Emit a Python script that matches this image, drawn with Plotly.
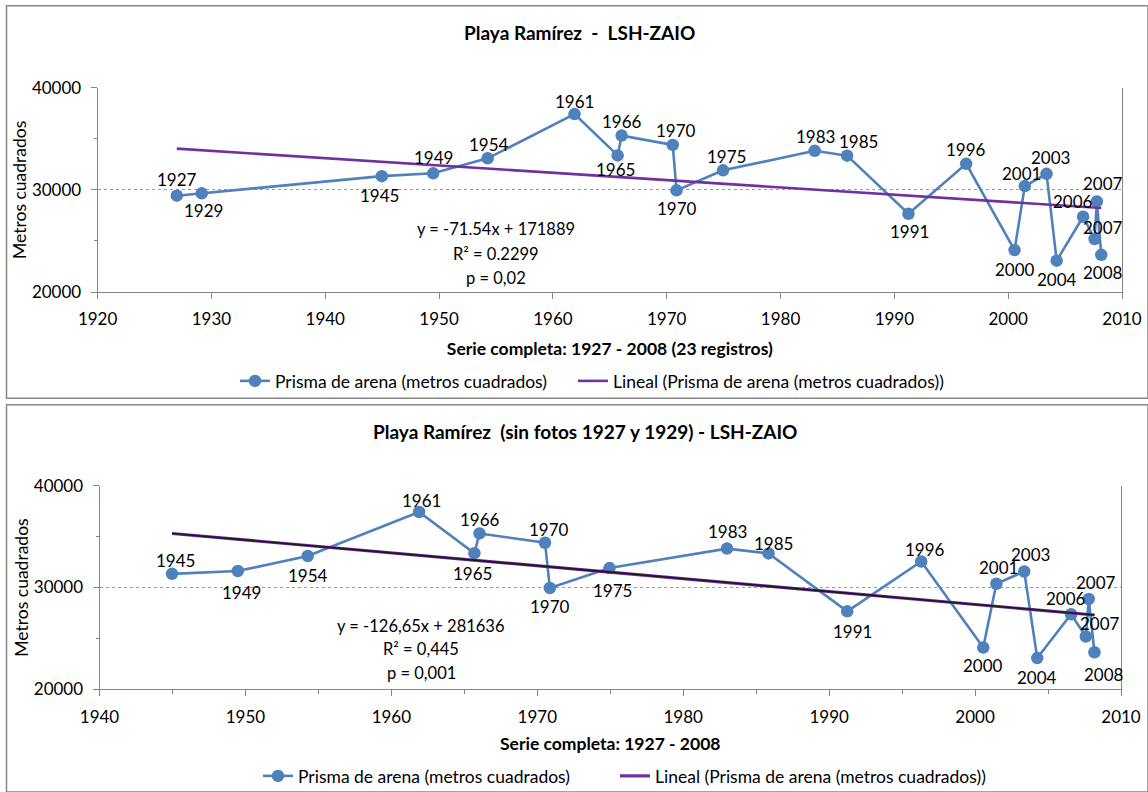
import plotly.graph_objects as go

# Survey dates (decimal years), their labels and sand prism area (m²)
fechas = [1926.96, 1929.15, 1944.97, 1949.48, 1954.27, 1961.90, 1965.69, 1966.04,
          1970.53, 1970.86, 1974.95, 1983.00, 1985.85, 1991.24, 1996.31, 2000.56,
          2001.46, 2003.37, 2004.26, 2006.58, 2007.59, 2007.79, 2008.18]
etiquetas = ["1927", "1929", "1945", "1949", "1954", "1961", "1965", "1966",
             "1970", "1970", "1975", "1983", "1985", "1991", "1996", "2000",
             "2001", "2003", "2004", "2006", "2007", "2007", "2008"]
prisma = [29430, 29660, 31340, 31620, 33090, 37420, 33370, 35310,
          34400, 29950, 31910, 33820, 33350, 27660, 32550, 24100,
          30370, 31570, 23070, 27370, 25190, 28870, 23640]

# Linear fits reported on each panel
pendiente_completa, ordenada_completa = -71.54, 171889
pendiente_sin, ordenada_sin = -126.65, 281636

# Label offsets (pixels) around each marker
desp_sup = [(0, 16), (2, -17), (-2, -19), (0, 16), (1, 14), (0, 13), (-2, -14), (0, 14),
            (3, 14), (0, -18), (3, 14), (1, 14), (11, 14), (1, -18), (0, 14), (0, -19),
            (-3, 13), (4, 16), (0, -19), (-10, 15), (8, 11), (6, 18), (2, -18)]
desp_inf = [(3, 13), (4, -21), (0, -19), (2, 11), (-2, -20), (0, 14),
            (4, 13), (0, -18), (3, -22), (1, 17), (5, 10), (5, -20), (4, 12), (0, -18),
            (2, 16), (6, 17), (0, -19), (-5, 16), (14, 13), (7, 17), (10, -22)]

SERIE = "Prisma de arena (metros cuadrados)"
AJUSTE = "Lineal (Prisma de arena (metros cuadrados))"

AZUL = "#4F81BD"
MORADO = "#7030A0"
GRIS = "#868686"
FUENTE = "Lato, 'Liberation Sans', sans-serif"
W, H = 1148, 792
T_TICK = 17
T_TXT = 17.5


def px_x(v):
    return v / W


def px_y(v):
    return 1 - v / H


def rotulo(texto, x, y, size, bold=False):
    if bold:
        texto = "<b>" + texto + "</b>"
    return dict(x=px_x(x), y=px_y(y), xref="paper", yref="paper", showarrow=False,
                xanchor="center", yanchor="middle", text=texto,
                font=dict(size=size, color="#000"))


def leyenda(x, y):
    return dict(orientation="h", x=px_x(x), xanchor="left", y=px_y(y), yanchor="middle",
                font=dict(size=T_TXT), bgcolor="rgba(0,0,0,0)")


fig = go.Figure()

# ---- Upper panel: full series ----
fig.add_trace(go.Scatter(
    x=fechas, y=prisma, mode="lines+markers", name=SERIE,
    line=dict(color=AZUL, width=2.6), marker=dict(color=AZUL, size=12.5),
    xaxis="x", yaxis="y", legend="legend", cliponaxis=False))
x_fit = [min(fechas), max(fechas)]
fig.add_trace(go.Scatter(
    x=x_fit, y=[pendiente_completa * v + ordenada_completa for v in x_fit], mode="lines",
    name=AJUSTE, line=dict(color=MORADO, width=2.6), xaxis="x", yaxis="y", legend="legend2"))

# ---- Lower panel: without 1927 and 1929 ----
fechas_sin = fechas[2:]
prisma_sin = prisma[2:]
etiquetas_sin = etiquetas[2:]
fig.add_trace(go.Scatter(
    x=fechas_sin, y=prisma_sin, mode="lines+markers", name=SERIE,
    line=dict(color=AZUL, width=2.6), marker=dict(color=AZUL, size=12.5),
    xaxis="x2", yaxis="y2", legend="legend3", cliponaxis=False))
x_fit2 = [min(fechas_sin), max(fechas_sin)]
y_fit2 = [pendiente_sin * v + ordenada_sin for v in x_fit2]
fig.add_trace(go.Scatter(
    x=x_fit2, y=y_fit2, mode="lines", name=AJUSTE,
    line=dict(color=MORADO, width=3.2), xaxis="x2", yaxis="y2", legend="legend4"))
fig.add_trace(go.Scatter(
    x=x_fit2, y=y_fit2, mode="lines", showlegend=False, hoverinfo="skip",
    line=dict(color="#1a1a1a", width=1.6), xaxis="x2", yaxis="y2"))

anots = []
for xv, yv, t, (dx, dy) in zip(fechas, prisma, etiquetas, desp_sup):
    anots.append(dict(x=xv, y=yv, xref="x", yref="y", text=t, showarrow=False,
                      xanchor="center", yanchor="middle",
                      xshift=dx, yshift=dy, font=dict(size=T_TICK, color="#000")))
for xv, yv, t, (dx, dy) in zip(fechas_sin, prisma_sin, etiquetas_sin, desp_inf):
    anots.append(dict(x=xv, y=yv, xref="x2", yref="y2", text=t, showarrow=False,
                      xanchor="center", yanchor="middle",
                      xshift=dx, yshift=dy, font=dict(size=T_TICK, color="#000")))

# Titles
anots.append(rotulo("Playa Ramírez&nbsp;&nbsp;-&nbsp;&nbsp;LSH-ZAIO", 579, 33, 19, True))
anots.append(rotulo("Playa Ramírez&nbsp;&nbsp;(sin fotos 1927 y 1929) - LSH-ZAIO",
                    585, 432, 19, True))

# Regression statistics
for txt, yy in [("y = -71.54x + 171889", 229), ("R² = 0.2299", 254), ("p = 0,02", 278)]:
    anots.append(rotulo(txt, 496, yy, 16.5))
for txt, yy in [("y = -126,65x + 281636", 626), ("R² = 0,445", 649), ("p = 0,001", 673)]:
    anots.append(rotulo(txt, 421, yy, 16.5))

eje_x = dict(showline=True, linecolor=GRIS, linewidth=1, ticks="outside", ticklen=6,
             tickcolor=GRIS, dtick=10, showgrid=False, zeroline=False, automargin=False,
             tickfont=dict(size=T_TICK, color="#000"), ticklabelstandoff=6)
eje_y = dict(showline=True, linecolor=GRIS, linewidth=1, mirror=True, ticks="outside",
             ticklen=6, tickcolor=GRIS, range=[20000, 40000], dtick=10000, tickformat="d",
             showgrid=True, gridcolor="#9a9a9a", griddash="dot", gridwidth=1,
             zeroline=False, automargin=False,
             tickfont=dict(size=T_TICK, color="#000"), ticklabelstandoff=6,
             minor=dict(dtick=5000, ticks="outside", ticklen=3, tickcolor=GRIS, showgrid=False),
             title=dict(text="Metros cuadrados", font=dict(size=T_TXT), standoff=0))

fig.update_layout(
    width=W, height=H, margin=dict(l=0, r=0, t=0, b=0, autoexpand=False),
    paper_bgcolor="white", plot_bgcolor="white",
    font=dict(family=FUENTE, color="#000"),
    xaxis=dict(eje_x, domain=[px_x(97.6), px_x(1122)], range=[1920, 2010], anchor="y",
               title=dict(text="<b>Serie completa: 1927 - 2008 (23 registros)</b>",
                          font=dict(size=T_TXT), standoff=14)),
    yaxis=dict(eje_y, domain=[px_y(292), px_y(87.7)], anchor="x"),
    xaxis2=dict(eje_x, domain=[px_x(99.5), px_x(1121)], range=[1940, 2010], anchor="y2",
                minor=dict(dtick=5, ticks="outside", ticklen=4, tickcolor=GRIS, showgrid=False),
                title=dict(text="<b>Serie completa: 1927 - 2008</b>",
                           font=dict(size=T_TXT), standoff=12)),
    yaxis2=dict(eje_y, domain=[px_y(689.3), px_y(485.7)], anchor="x2"),
    legend=leyenda(235, 381),
    legend2=leyenda(573, 381),
    legend3=leyenda(258, 776),
    legend4=leyenda(615, 776),
    annotations=anots,
    shapes=[
        dict(type="rect", xref="paper", yref="paper", x0=px_x(6.5), x1=1,
             y0=px_y(398.3), y1=px_y(5.7), line=dict(color=GRIS, width=1.5), layer="below"),
        dict(type="rect", xref="paper", yref="paper", x0=px_x(6.5), x1=1,
             y0=0, y1=px_y(404.7), line=dict(color=GRIS, width=1.5), layer="below"),
    ],
    hovermode=False,
)

fig.write_html("out.html")
